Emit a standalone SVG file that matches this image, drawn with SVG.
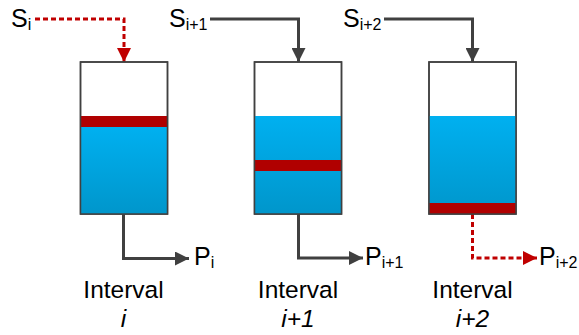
<svg xmlns="http://www.w3.org/2000/svg" width="579" height="335" viewBox="0 0 579 335">
  <defs>
    <linearGradient id="water" x1="0" y1="0" x2="0" y2="1">
      <stop offset="0" stop-color="#00b0f0"/>
      <stop offset="1" stop-color="#0096cb"/>
    </linearGradient>
    <marker id="headGray" viewBox="0 0 14 14" refX="14" refY="7" markerWidth="14" markerHeight="14" markerUnits="userSpaceOnUse" orient="auto">
      <path d="M0,0 L14,7 L0,14 Z" fill="#404040"/>
    </marker>
    <marker id="headRed" viewBox="0 0 14 14" refX="14" refY="7" markerWidth="14" markerHeight="14" markerUnits="userSpaceOnUse" orient="auto">
      <path d="M0,0 L14,7 L0,14 Z" fill="#c00000"/>
    </marker>
  </defs>
  <style>
    .tank { fill: #ffffff; stroke: #404040; stroke-width: 1.5; }
    .water { fill: url(#water); }
    .band { fill: #b00000; }
    .outline { fill: none; stroke: #404040; stroke-width: 1.5; }
    .flow { fill: none; stroke: #404040; stroke-width: 3; marker-end: url(#headGray); }
    .flow-red { fill: none; stroke: #c00000; stroke-width: 3; stroke-dasharray: 5 3; marker-end: url(#headRed); }
    text { font-family: "Liberation Sans", Arial, sans-serif; fill: #000000; }
    .lbl { font-size: 25px; }
    .sub { font-size: 16px; }
    .cap { font-size: 24.5px; text-anchor: middle; }
  </style>

  <g id="connectors">
    <path class="flow-red" d="M35,19 H124 V62"/>
    <path class="flow" d="M210,19 H298.5 V62"/>
    <path class="flow" d="M384,19 H472.5 V62"/>
    <path class="flow" d="M123.5,214 V258.5 H189"/>
    <path class="flow" d="M298.5,214 V258 H363"/>
    <path class="flow-red" d="M472.5,214 V258 H537"/>
  </g>

  <g id="interval-i">
    <rect class="tank" x="80.5" y="62" width="87" height="152"/>
    <rect class="water" x="80.5" y="127" width="87" height="87"/>
    <rect class="band" x="80.5" y="116" width="87" height="11"/>
    <rect class="outline" x="80.5" y="62" width="87" height="152"/>
    <text class="lbl" x="11" y="27">S<tspan class="sub" dy="3">i</tspan></text>
    <text class="lbl" x="194" y="265">P<tspan class="sub" dy="3">i</tspan></text>
    <text class="cap" x="123.5" y="297.5">Interval</text>
    <text class="cap" x="123.5" y="327" font-style="italic">i</text>
  </g>

  <g id="interval-i1">
    <rect class="tank" x="254.5" y="62" width="87" height="152"/>
    <rect class="water" x="254.5" y="116" width="87" height="98"/>
    <rect class="band" x="254.5" y="160" width="87" height="11"/>
    <rect class="outline" x="254.5" y="62" width="87" height="152"/>
    <text class="lbl" x="169" y="27">S<tspan class="sub" dy="3">i+1</tspan></text>
    <text class="lbl" x="365" y="265">P<tspan class="sub" dy="3">i+1</tspan></text>
    <text class="cap" x="298" y="297.5">Interval</text>
    <text class="cap" x="298" y="327" font-style="italic">i+1</text>
  </g>

  <g id="interval-i2">
    <rect class="tank" x="429" y="62" width="87" height="152"/>
    <rect class="water" x="429" y="116" width="87" height="98"/>
    <rect class="band" x="429" y="203" width="87" height="11"/>
    <rect class="outline" x="429" y="62" width="87" height="152"/>
    <text class="lbl" x="343" y="27">S<tspan class="sub" dy="3">i+2</tspan></text>
    <text class="lbl" x="539" y="265">P<tspan class="sub" dy="3">i+2</tspan></text>
    <text class="cap" x="472.5" y="297.5">Interval</text>
    <text class="cap" x="472.5" y="327" font-style="italic">i+2</text>
  </g>
</svg>
